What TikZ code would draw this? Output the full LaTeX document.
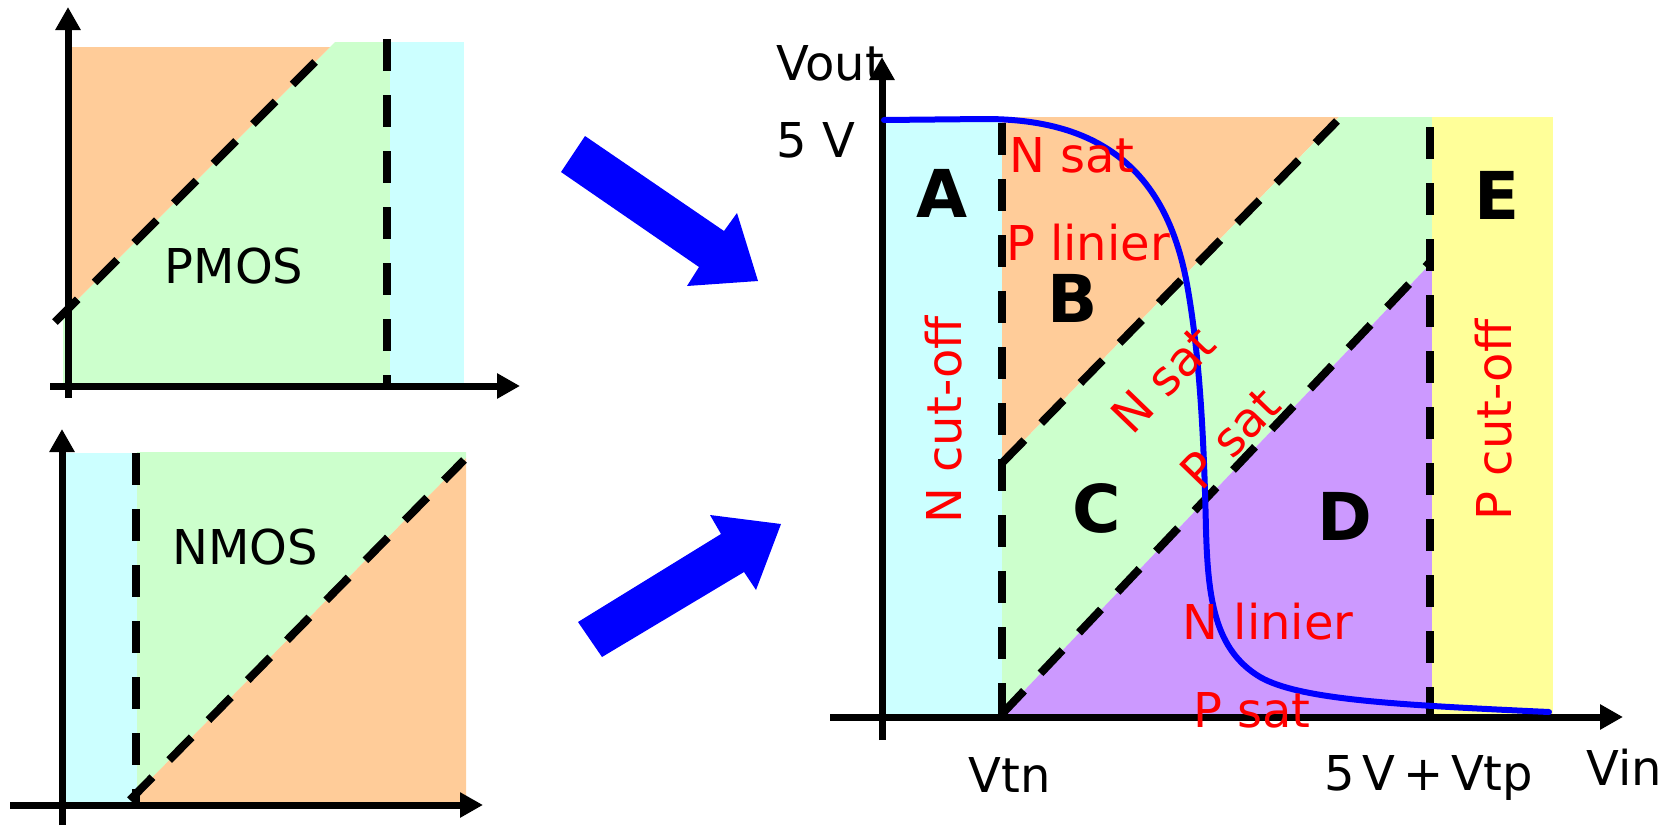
\documentclass[tikz,border=0pt]{standalone}
\usepackage{fontspec}
\setmainfont{DejaVu Sans}
\newfontfamily\tightspace[WordSpace=0.5]{DejaVu Sans}
\usetikzlibrary{arrows.meta}
\definecolor{cOrange}{HTML}{FFCC99}
\definecolor{cGreen}{HTML}{CCFFCC}
\definecolor{cCyan}{HTML}{CCFFFF}
\definecolor{cPurple}{HTML}{CC99FF}
\definecolor{cYellow}{HTML}{FFFF99}
\begin{document}
\begin{tikzpicture}[x=1pt,y=-1pt,
  axis/.style={line width=7pt,-{Triangle[length=23pt,width=24pt]}},
  bound/.style={line width=8pt,dash pattern=on 32pt off 24pt},
  lbl/.style={font=\fontsize{48}{50}\selectfont,inner sep=0pt,anchor=base},
  rlbl/.style={lbl,text=red},
  big/.style={font=\fontsize{66}{68}\selectfont\bfseries,inner sep=0pt,anchor=base},
  bigarrow/.style={fill=blue,draw=none},
  curve/.style={draw=blue,line width=6pt,line cap=round}]
\useasboundingbox (0,0) rectangle (1676,825);

% ---------- PMOS panel ----------
\fill[cGreen] (63,386) -- (63,314) -- (335,42) -- (390,42) -- (390,386) -- cycle;
\fill[cOrange] (68,47) -- (330,47) -- (68,309) -- cycle;
\fill[cCyan] (390,42) rectangle (464,386);
\coordinate (pd1) at (55,322); \coordinate (pd2) at (315,62);
\draw[bound] (pd1) -- (pd2);
\coordinate (pv1) at (387,39); \coordinate (pv2) at (387,386);
\draw[bound] (pv1) -- (pv2);
\coordinate (py0) at (68,398); \coordinate (py1) at (68,7);
\coordinate (px0) at (50,386); \coordinate (px1) at (520,386);
\draw[axis] (py0) -- (py1);
\draw[axis] (px0) -- (px1);
\node[lbl] (pmos) at (234,283) {PMOS};

% ---------- NMOS panel ----------
\fill[cCyan] (62,453) rectangle (137,805);
\fill[cGreen] (137,452) -- (466,452) -- (466,458) -- (137,793) -- cycle;
\fill[cOrange] (137,793) -- (466,458) -- (466,805) -- (137,805) -- cycle;
\coordinate (nv1) at (136,453); \coordinate (nv2) at (136,805);
\draw[bound] (nv1) -- (nv2);
\coordinate (nd1) at (130,800); \coordinate (nd2) at (464,460);
\draw[bound] (nd1) -- (nd2);
\coordinate (ny0) at (62,825); \coordinate (ny1) at (62,429);
\coordinate (nx0) at (10,805); \coordinate (nx1) at (483,805);
\draw[axis] (ny0) -- (ny1);
\draw[axis] (nx0) -- (nx1);
\node[lbl] (nmos) at (245,564) {NMOS};

% ---------- big arrows ----------
\fill[bigarrow] (585,136) -- (724,231) -- (737,213) -- (758,281) -- (687,286) -- (699,267) -- (561,172) -- cycle;
\fill[bigarrow] (578,622) -- (721,534) -- (710,515) -- (781,524) -- (756,590) -- (744,572) -- (602,657) -- cycle;

% ---------- main plot ----------
\fill[cCyan] (885,117) rectangle (1002,717);
\fill[cOrange] (1002,117) -- (1339,117) -- (1002,463) -- cycle;
\fill[cGreen] (1002,463) -- (1339,117) -- (1432,117) -- (1432,262) -- (1002,714) -- cycle;
\fill[cPurple] (1002,714) -- (1432,262) -- (1432,717) -- (1002,717) -- cycle;
\fill[cYellow] (1432,117) rectangle (1553,717);

\coordinate (vtnT) at (1002,123); \coordinate (vtnB) at (1002,717);
\coordinate (vtpT) at (1430,127); \coordinate (vtpB) at (1430,717);
\coordinate (bc1) at (1002,463); \coordinate (bc2) at (1337,121);
\coordinate (cd1) at (1002,714); \coordinate (cd2) at (1430,262);
\draw[bound] (vtnT) -- (vtnB);
\draw[bound] (vtpT) -- (vtpB);
\draw[bound] (bc1) -- (bc2);
\draw[bound] (cd1) -- (cd2);

\coordinate (my0) at (882,740); \coordinate (my1) at (882,57);
\coordinate (mx0) at (830,717); \coordinate (mx1) at (1623,717);
\draw[axis] (my0) -- (my1);
\draw[axis] (mx0) -- (mx1);

\draw[curve] (884,120) -- (985,119)
  .. controls (1100,119) and (1168,170) .. (1188,290)
  .. controls (1200,360) and (1204,440) .. (1206,530)
  .. controls (1208,600) and (1215,650) .. (1260,677)
  .. controls (1300,700) and (1400,705) .. (1549,712);

% axis labels
\node[lbl] (vout) at (830,80) {Vout};
\node[lbl] (fivev) at (816,157) {5 V};
\node[lbl] (vtn) at (1010,792) {Vtn};
\node[lbl,font=\fontsize{48}{50}\selectfont\tightspace] (vtp) at (1429,790) {5 V + Vtp};
\node[lbl] (vin) at (1624,785) {Vin};

% region letters
\node[big] (ra) at (942,217) {A};
\node[big] (rb) at (1073,322) {B};
\node[big] (rc) at (1097,532) {C};
\node[big] (rd) at (1345,540) {D};
\node[big] (re) at (1497,219) {E};

% operating modes
\node[rlbl] (nsat1) at (1072,172) {N sat};
\node[rlbl] (plin) at (1088,260) {P linier};
\node[rlbl,rotate=90] (ncut) at (961,420) {N cut-off};
\node[rlbl,rotate=90] (pcut) at (1511,420) {P cut-off};
\node[rlbl,anchor=center,rotate=46] (nsat2) at (1163,380) {N sat};
\node[rlbl,anchor=center,rotate=46] (psat1) at (1230,438) {P sat};
\node[rlbl] (nlin) at (1268,639) {N linier};
\node[rlbl] (psat2) at (1252,727) {P sat};
\end{tikzpicture}
\end{document}
